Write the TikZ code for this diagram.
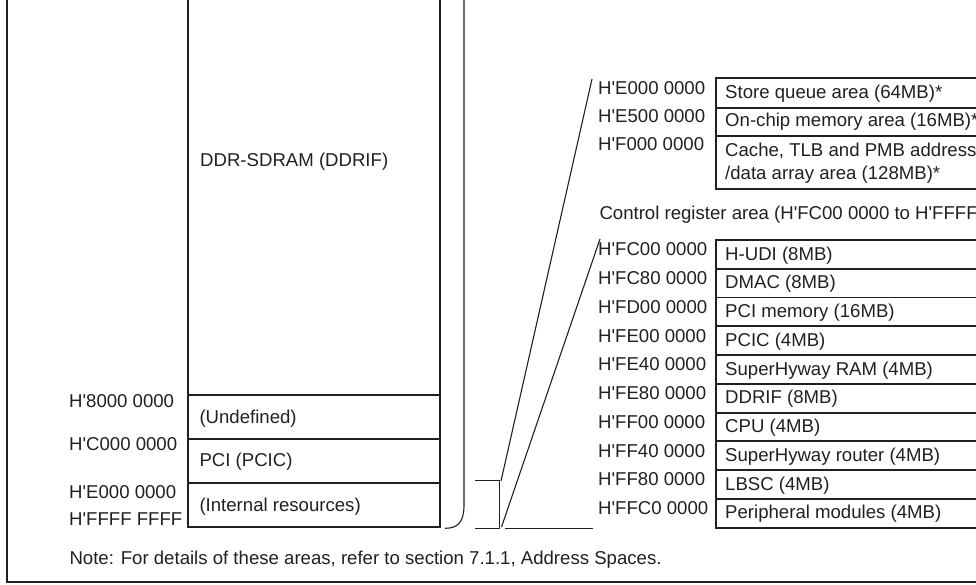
\documentclass[tikz,border=0pt]{standalone}
\usepackage{fontspec}
\newfontfamily\lsans{Liberation Sans}
\definecolor{ink}{HTML}{231F20}
\begin{document}
\begin{tikzpicture}[x=1pt,y=-1pt,
  cell/.style={draw=ink, line width=1.9pt, inner sep=0pt, anchor=north west, rectangle},
  txt/.style={font=\lsans\fontsize{18.6}{22}\selectfont, text=ink, inner sep=0pt, anchor=base west},
  thinline/.style={draw=ink, line width=1.1pt},
  frameline/.style={draw=ink, line width=1.7pt}]
\useasboundingbox (0,0) rectangle (976,585);
\clip (0,0) rectangle (976,585);
% outer frame
\coordinate (frTop) at (6.7,-20);
\coordinate (frCorner) at (6.7,582);
\coordinate (frRight) at (990,582);
\draw[frameline] (frTop) -- (frCorner) -- (frRight);
% main memory map
\node[cell, minimum width=252pt, minimum height=434pt] (ddr) at (187,-40) {};
\node[cell, minimum width=252pt, minimum height=44pt] (undef) at (187,394) {};
\node[cell, minimum width=252pt, minimum height=44pt] (pci) at (187,438) {};
\node[cell, minimum width=252pt, minimum height=44pt] (intres) at (187,482) {};
\node[txt] (tddr) at (200,166.7) {DDR-SDRAM (DDRIF)};
\node[txt] (tundef) at (199.3,423) {(Undefined)};
\node[txt] (tpci) at (199.3,466.7) {PCI (PCIC)};
\node[txt] (tint) at (199.3,511.7) {(Internal resources)};
\node[txt] (l8000) at (69,407.3) {H'8000 0000};
\node[txt] (lC000) at (69,450) {H'C000 0000};
\node[txt] (lE000) at (69,498.3) {H'E000 0000};
\node[txt] (lFFFF) at (69,525) {H'FFFF FFFF};
% large bracket
\coordinate (bkTop) at (464,-20);
\coordinate (bkMid) at (464,505);
\coordinate (bkBot) at (445,528.3);
\draw[thinline] (bkTop) -- (bkMid) .. controls (464,522) and (458,528.3) .. (bkBot);
% small bracket
\coordinate (sbA) at (475,480.7);
\coordinate (sbB) at (499.3,480.7);
\coordinate (sbC) at (499.3,528.3);
\coordinate (sbD) at (475,528.3);
\draw[thinline] (sbA) -- (sbB) -- (sbC) -- (sbD);
% expansion lines
\coordinate (laBot) at (501,481);
\coordinate (laTop) at (592,79);
\coordinate (lbBot) at (501.5,527);
\coordinate (lbTop) at (600,239);
\coordinate (hzA) at (505,528.3);
\coordinate (hzB) at (593.3,528.3);
\draw[thinline] (laBot) -- (laTop);
\draw[thinline] (lbBot) -- (lbTop);
\draw[thinline] (hzA) -- (hzB);
% upper internal areas
\node[cell, minimum width=264pt, minimum height=29.4pt] (sq) at (715,77.3) {};
\node[cell, minimum width=264pt, minimum height=28.3pt] (oc) at (715,106.7) {};
\node[cell, minimum width=264pt, minimum height=52.7pt] (cache) at (715,135) {};
\node[txt] (lsq) at (598,94.3) {H'E000 0000};
\node[txt] (loc) at (598,122.7) {H'E500 0000};
\node[txt] (lcache) at (598,151) {H'F000 0000};
\node[txt] (tsq) at (725,98.3) {Store queue area (64MB)*};
\node[txt] (toc) at (725,126.7) {On-chip memory area (16MB)*};
\node[txt] (tcache1) at (725,156.7) {Cache, TLB and PMB address};
\node[txt] (tcache2) at (725,180) {/data array area (128MB)*};
\node[txt] (tctrl) at (599.3,220) {Control register area (H'FC00 0000 to H'FFFF};
% control register rows
\foreach \lab/\txt [count=\i from 0] in {
  H'FC00 0000/H-UDI (8MB),
  H'FC80 0000/DMAC (8MB),
  H'FD00 0000/PCI memory (16MB),
  H'FE00 0000/PCIC (4MB),
  H'FE40 0000/SuperHyway RAM (4MB),
  H'FE80 0000/DDRIF (8MB),
  H'FF00 0000/CPU (4MB),
  H'FF40 0000/SuperHyway router (4MB),
  H'FF80 0000/LBSC (4MB),
  H'FFC0 0000/Peripheral modules (4MB)}{
  \pgfmathsetmacro\yy{239+\i*28.77}
  \node[cell, minimum width=264pt, minimum height=28.77pt] (crow\i) at (715,\yy) {};
  \node[txt] (clab\i) at (598,\yy+16.7) {\lab};
  \node[txt] (ctxt\i) at (725,\yy+21) {\txt};
}
% note
\node[txt] (note) at (69.3,564) {Note: For details of these areas, refer to section 7.1.1, Address Spaces.};
\end{tikzpicture}
\end{document}
